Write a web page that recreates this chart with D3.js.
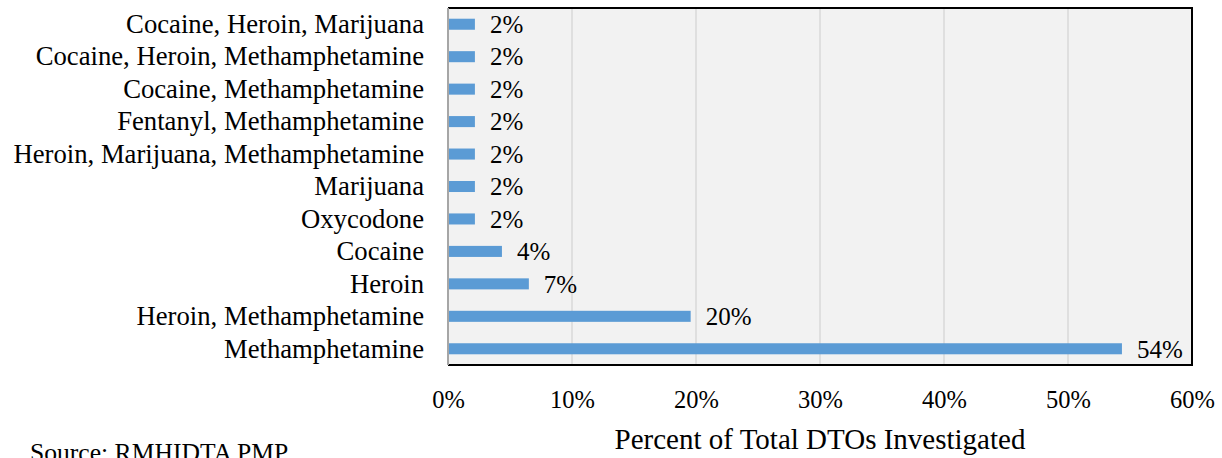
<!DOCTYPE html>
<html>
<head>
<meta charset="utf-8">
<script src="https://cdn.jsdelivr.net/npm/d3@7"></script>
<style>
  body { margin: 0; background: #fff; }
  svg { display: block; font-family: "Liberation Serif", "Times New Roman", serif; }
  .axis path { display: none; }
  .axis text { fill: #000; }
</style>
</head>
<body>
<div id="chart"></div>
<script>
// categories top to bottom, share of DTOs investigated (%)
const categories = [
    "Cocaine, Heroin, Marijuana",
    "Cocaine, Heroin, Methamphetamine",
    "Cocaine, Methamphetamine",
    "Fentanyl, Methamphetamine",
    "Heroin, Marijuana, Methamphetamine",
    "Marijuana",
    "Oxycodone",
    "Cocaine",
    "Heroin",
    "Heroin, Methamphetamine",
    "Methamphetamine"
];
const shares = [2.17, 2.17, 2.17, 2.17, 2.17, 2.17, 2.17, 4.35, 6.52, 19.57, 54.35];
const xTicks = [0, 10, 20, 30, 40, 50, 60];

const data = categories.map((c, i) => ({ category: c, value: shares[i] }));

const width = 1222, height = 458;
const margin = { top: 8, right: 30, bottom: 93, left: 448 };
const innerW = width - margin.left - margin.right;
const innerH = height - margin.top - margin.bottom;

const svg = d3.select("#chart")
    .append("svg")
    .attr("width", width)
    .attr("height", height);

const chart = svg.append("g")
    .attr("transform", `translate(${margin.left},${margin.top})`);

const x = d3.scaleLinear().domain([0, 60]).range([0, innerW]);
const y = d3.scaleBand().domain(categories).range([0, innerH]).paddingInner(0.66).paddingOuter(0.33);

// plot background
chart.append("rect")
    .attr("width", innerW)
    .attr("height", innerH)
    .attr("fill", "#f2f2f2");

// vertical gridlines
chart.selectAll(".grid")
    .data(xTicks.filter(d => d > 0 && d < 60))
    .enter()
    .append("line")
    .attr("class", "grid")
    .attr("x1", d => x(d))
    .attr("x2", d => x(d))
    .attr("y1", 0)
    .attr("y2", innerH)
    .attr("stroke", "#d9d9d9")
    .attr("stroke-width", 1.5);

// bars
chart.selectAll(".bar")
    .data(data)
    .enter()
    .append("rect")
    .attr("class", "bar")
    .attr("x", 0)
    .attr("y", d => y(d.category))
    .attr("width", d => x(d.value))
    .attr("height", y.bandwidth())
    .attr("fill", "#5b9bd5");

// value labels
chart.selectAll(".value")
    .data(data)
    .enter()
    .append("text")
    .attr("class", "value")
    .attr("x", d => x(d.value) + 15)
    .attr("y", d => y(d.category) + y.bandwidth() / 2)
    .attr("dy", "0.35em")
    .attr("font-size", 25)
    .text(d => `${Math.round(d.value)}%`);

// frame: dark top/right/bottom, gray left
chart.append("path")
    .attr("d", `M0,0H${innerW}V${innerH}H0`)
    .attr("fill", "none")
    .attr("stroke", "#000")
    .attr("stroke-width", 2);
chart.append("line")
    .attr("x1", 0).attr("x2", 0)
    .attr("y1", 0).attr("y2", innerH)
    .attr("stroke", "#a6a6a6")
    .attr("stroke-width", 2);

// category labels
chart.selectAll(".cat")
    .data(data)
    .enter()
    .append("text")
    .attr("class", "cat")
    .attr("x", -24)
    .attr("y", d => y(d.category) + y.bandwidth() / 2)
    .attr("dy", "0.33em")
    .attr("text-anchor", "end")
    .attr("font-size", 26.7)
    .text(d => d.category);

// x axis
chart.append("g")
    .attr("class", "axis")
    .attr("transform", `translate(0,${innerH})`)
    .call(d3.axisBottom(x).tickValues(xTicks).tickSize(0).tickPadding(26).tickFormat(d => `${d}%`))
    .selectAll("text")
    .attr("font-size", 24.5)
    .attr("font-family", "Liberation Serif");

svg.append("text")
    .attr("x", 820)
    .attr("y", 449)
    .attr("text-anchor", "middle")
    .attr("font-size", 29)
    .text("Percent of Total DTOs Investigated");

svg.append("text")
    .attr("x", 30)
    .attr("y", 461)
    .attr("font-size", 25.6)
    .text("Source: RMHIDTA PMP");
</script>
</body>
</html>
